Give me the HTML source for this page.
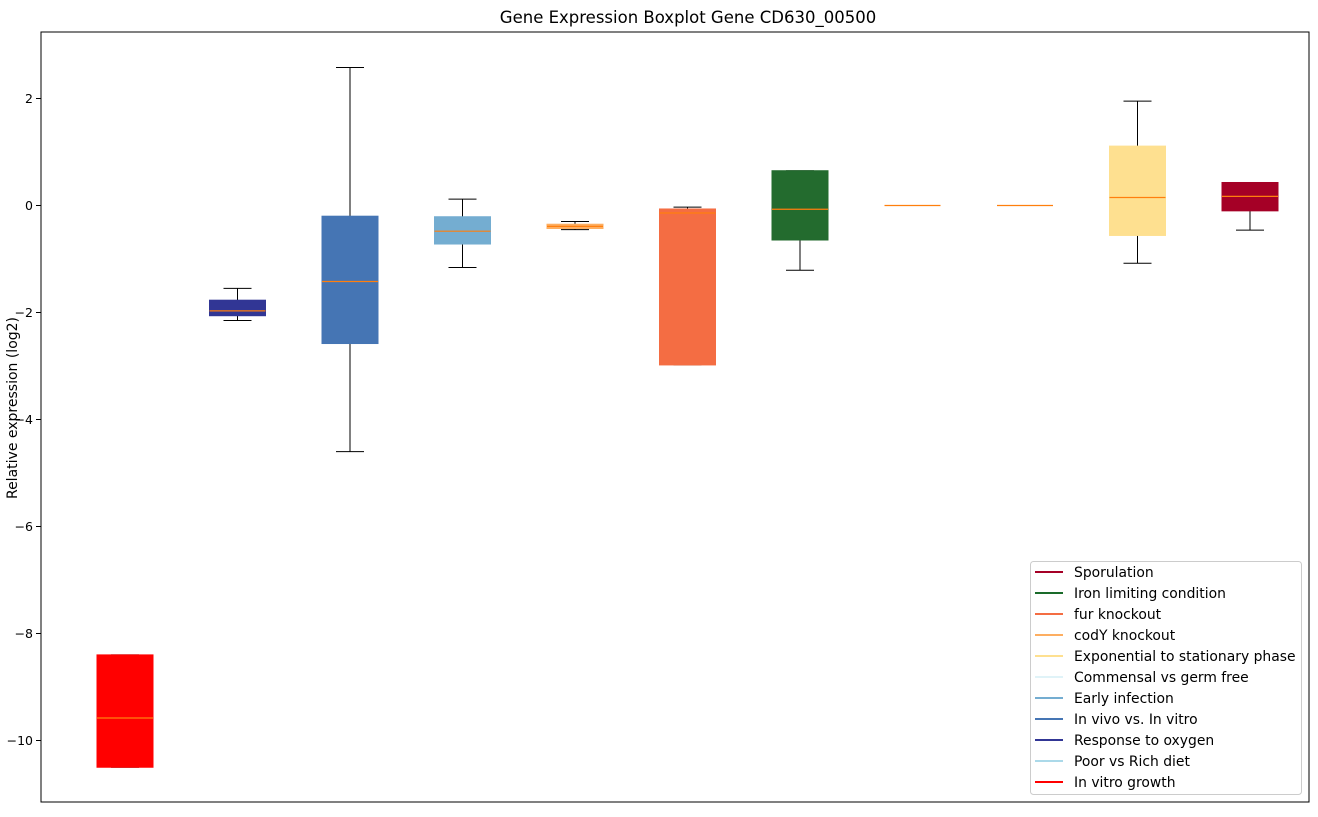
<!DOCTYPE html>
<html><head><meta charset="utf-8"><style>
body{margin:0;background:#fff;}
svg text{font-family:"DejaVu Sans","Liberation Sans",sans-serif;}
</style></head><body>
<svg id="chart" width="1318" height="812" xmlns="http://www.w3.org/2000/svg">
<rect width="1318" height="812" fill="#fff"/>
<text x="688" y="23" text-anchor="middle" font-size="16.5">Gene Expression Boxplot Gene CD630_00500</text>
<text transform="translate(17,408) rotate(-90)" text-anchor="middle" font-size="14">Relative expression (log2)</text>
<g id="boxes"></g>
<g id="yaxis"></g>
<rect x="41" y="32" width="1268" height="770" fill="none" stroke="#000" stroke-width="1"/>
<g id="legend"></g>
</svg>
<script>
const categories=["In vitro growth","Response to oxygen","In vivo vs. In vitro","Early infection","codY knockout","fur knockout","Iron limiting condition","Commensal vs germ free","Poor vs Rich diet","Exponential to stationary phase","Sporulation"];
const colors=["#ff0000","#313695","#4575b4","#74add1","#fdae61","#f46d43","#236b2e","#e0f3f8","#abd9e9","#fee090","#a50026"];
const whiskerLow=[-10.5,-2.15,-4.6,-1.16,-0.45,-2.98,-1.21,0,0,-1.08,-0.46];
const q1=[-10.5,-2.06,-2.58,-0.72,-0.43,-2.98,-0.645,0,0,-0.56,-0.10];
const medians=[-9.58,-1.97,-1.42,-0.48,-0.39,-0.14,-0.07,0,0,0.15,0.17];
const q3=[-8.40,-1.77,-0.20,-0.21,-0.35,-0.065,0.65,0,0,1.11,0.43];
const whiskerHigh=[-8.40,-1.55,2.58,0.12,-0.30,-0.03,0.65,0,0,1.95,0.43];
const yTicks=[2,0,-2,-4,-6,-8,-10];
const legendLabels=["Sporulation","Iron limiting condition","fur knockout","codY knockout","Exponential to stationary phase","Commensal vs germ free","Early infection","In vivo vs. In vitro","Response to oxygen","Poor vs Rich diet","In vitro growth"];
const legendColors=["#a50026","#1a6b2a","#f46d43","#fdae61","#fee090","#e0f3f8","#74add1","#4575b4","#313695","#abd9e9","#ff0000"];

const NS="http://www.w3.org/2000/svg";
function yScale(v){return 205.5-v*53.5;}
function xScale(i){return 125+i*112.5;}
function mk(tag,attrs,parent){const e=document.createElementNS(NS,tag);for(const k in attrs)e.setAttribute(k,attrs[k]);parent.appendChild(e);return e;}
const gB=document.getElementById('boxes');
categories.forEach((c,i)=>{
  const x=xScale(i),w=56,cw=28;
  const g=mk('g',{},gB);
  
  
  mk('line',{x1:x,x2:x,y1:yScale(whiskerHigh[i]),y2:yScale(q3[i]),stroke:'#000'},g);
  mk('line',{x1:x,x2:x,y1:yScale(q1[i]),y2:yScale(whiskerLow[i]),stroke:'#000'},g);
  mk('line',{x1:x-cw/2,x2:x+cw/2,y1:yScale(whiskerHigh[i]),y2:yScale(whiskerHigh[i]),stroke:'#000'},g);
  mk('line',{x1:x-cw/2,x2:x+cw/2,y1:yScale(whiskerLow[i]),y2:yScale(whiskerLow[i]),stroke:'#000'},g);
  const top=yScale(q3[i]),bot=yScale(q1[i]);
  if(bot-top>0.5){
    mk('rect',{x:x-w/2,y:top,width:w,height:bot-top,fill:colors[i],stroke:colors[i],'stroke-width':1},g);
  }
  mk('line',{x1:x-w/2,x2:x+w/2,y1:yScale(medians[i]),y2:yScale(medians[i]),stroke:'#ff7f0e','stroke-width':1.2},g);
});
const gY=document.getElementById('yaxis');
yTicks.forEach(t=>{
  const y=yScale(t);
  const l=mk('line',{x1:36,x2:41,y1:y,y2:y,stroke:'#000'},gY);
  
  
  const tx=mk('text',{x:33,y:y+4.5,'text-anchor':'end','font-size':12.5},gY);
  tx.textContent=t<0?'\u2212'+Math.abs(t):String(t);
  
  
});
const gL=document.getElementById('legend');


mk('rect',{x:1030.5,y:561.5,width:271,height:233,fill:'#fff',stroke:'#ccc',rx:3},gL);
legendLabels.forEach((lab,i)=>{
  const y=572+i*21;
  const g=mk('g',{},gL);
  
  
  mk('line',{x1:1035,x2:1063,y1:y,y2:y,stroke:legendColors[i],'stroke-width':2},g);
  const t=mk('text',{x:1074,y:y+5,'font-size':13.9},g);
  t.textContent=lab;
});
</script>
</body></html>
